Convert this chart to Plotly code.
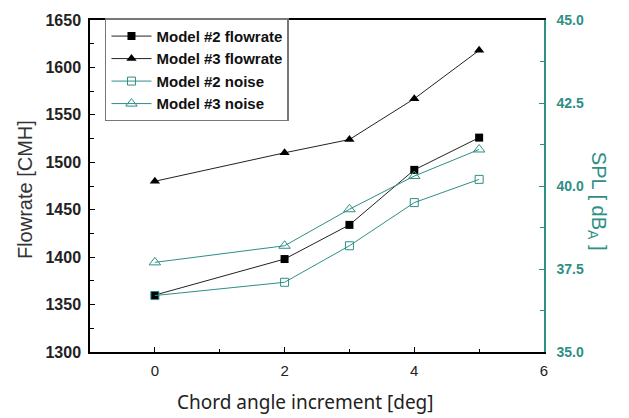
import plotly.graph_objects as go

angles = [0, 2, 3, 4, 5]
m2_flow = [1360, 1398, 1434, 1492, 1526]
m3_flow = [1480, 1510, 1524, 1567, 1618]
m2_noise = [36.7, 37.1, 38.2, 39.5, 40.2]
m3_noise = [37.7, 38.2, 39.3, 40.3, 41.1]

left_ticks = [1300, 1350, 1400, 1450, 1500, 1550, 1600, 1650]
right_ticks = [35.0, 37.5, 40.0, 42.5, 45.0]
x_ticks = [0, 2, 4, 6]

TEAL = "#2e8f85"
FONT = "Liberation Sans, Arial, sans-serif"

fig = go.Figure()
fig.add_trace(go.Scatter(x=angles, y=m2_flow, name="Model #2 flowrate", mode="lines+markers",
                         line=dict(color="#222222", width=1),
                         marker=dict(symbol="square", size=8, color="black")))
fig.add_trace(go.Scatter(x=angles, y=m3_flow, name="Model #3 flowrate", mode="lines+markers",
                         line=dict(color="#222222", width=1),
                         marker=dict(symbol="triangle-up", size=9, color="black")))
fig.add_trace(go.Scatter(x=angles, y=m2_noise, name="Model #2 noise", mode="lines+markers", yaxis="y2",
                         line=dict(color=TEAL, width=1),
                         marker=dict(symbol="square-open", size=8, color=TEAL, line=dict(width=1))))
fig.add_trace(go.Scatter(x=angles, y=m3_noise, name="Model #3 noise", mode="lines+markers", yaxis="y2",
                         line=dict(color=TEAL, width=1),
                         marker=dict(symbol="triangle-up-open", size=10, color=TEAL, line=dict(width=1))))

fig.update_layout(
    width=629, height=418,
    margin=dict(l=90, r=85, t=16, b=66),
    paper_bgcolor="white", plot_bgcolor="white",
    font=dict(family=FONT, color="#222222"),
    showlegend=True,
    legend=dict(x=0.033, y=1.005, xanchor="left", yanchor="top",
                bgcolor="white", bordercolor="#777777", borderwidth=1.5,
                font=dict(family=FONT, size=15, color="#111111", weight="bold"),
                tracegroupgap=0, itemwidth=40),
    xaxis=dict(range=[-1, 6], tickvals=x_ticks, ticks="inside", ticklen=5, tickcolor="black",
               minor=dict(dtick=1, tick0=0, ticks="inside", ticklen=3, tickcolor="black"),
               showline=True, linecolor="black", linewidth=1.5, mirror=False,
               showgrid=False, zeroline=False, ticklabelstandoff=4,
               tickfont=dict(size=15, color="#222222")),
    xaxis2=dict(overlaying="x", side="top", range=[-1, 6], showline=True, linecolor="black",
                linewidth=1.5, showticklabels=False, ticks="", showgrid=False, zeroline=False),
    yaxis=dict(range=[1300, 1650], tickvals=left_ticks, ticks="inside", ticklen=5, tickcolor="black",
               minor=dict(dtick=25, tick0=1300, ticks="inside", ticklen=4, tickcolor="black"),
               showline=True, linecolor="black", linewidth=1.5, showgrid=False, zeroline=False,
               ticklabelstandoff=4,
               tickfont=dict(size=16, color="#222222", weight="bold")),
    yaxis2=dict(range=[35, 45], tickvals=right_ticks, ticktext=[f"{v:.1f}" for v in right_ticks],
                overlaying="y", side="right", anchor="x",
                ticks="inside", ticklen=5, tickcolor=TEAL,
                minor=dict(dtick=1.25, tick0=35, ticks="inside", ticklen=4, tickcolor=TEAL),
                showline=True, linecolor=TEAL, linewidth=1.5, showgrid=False, zeroline=False,
                ticklabelstandoff=8,
                tickfont=dict(size=14, color=TEAL, weight="bold")),
)

# top border line
fig.add_trace(go.Scatter(x=[None], y=[None], xaxis="x2", showlegend=False, hoverinfo="skip"))

fig.add_annotation(text="Flowrate [CMH]", xref="paper", yref="paper", x=-0.143, y=0.488,
                   textangle=-90, showarrow=False, xanchor="center", yanchor="middle",
                   font=dict(family=FONT, size=20, color="#333333"))
fig.add_annotation(text="SPL [ dB<sub>A</sub> ]", xref="paper", yref="paper", x=1.117, y=0.455,
                   textangle=90, showarrow=False, xanchor="center", yanchor="middle",
                   font=dict(family=FONT, size=20, color=TEAL))
fig.add_annotation(text="Chord angle increment [deg]", xref="paper", yref="paper", x=0.474, y=-0.152,
                   showarrow=False, xanchor="center", yanchor="middle",
                   font=dict(family="Noto Sans, sans-serif", size=19, color="#222222"))

fig.write_html("out.html")
